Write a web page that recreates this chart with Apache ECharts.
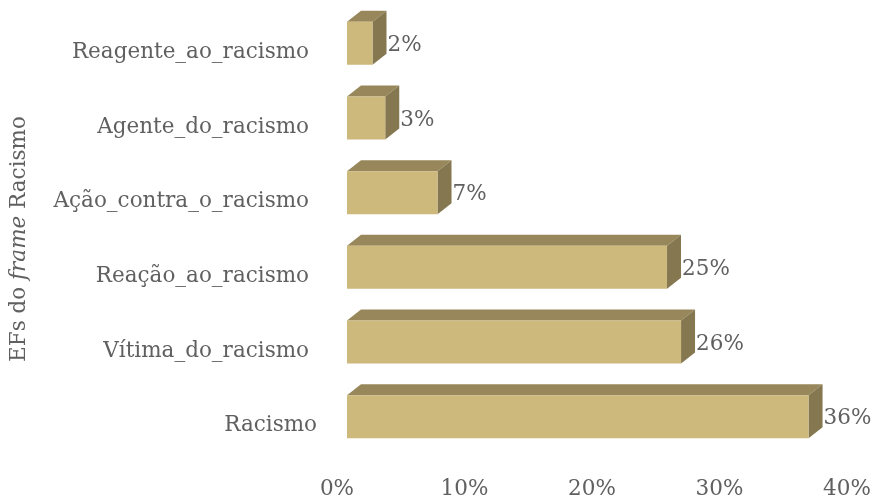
<!DOCTYPE html>
<html><head><meta charset="utf-8">
<style>html,body{margin:0;padding:0;background:#fff}#c{width:874px;height:496px}</style>
<script src="https://cdn.jsdelivr.net/npm/echarts@6/dist/echarts.min.js"></script>
</head><body><div id="c"></div>
<script>
const categories = ['Racismo','Vítima_do_racismo','Reação_ao_racismo','Ação_contra_o_racismo','Agente_do_racismo','Reagente_ao_racismo'];
const values = [36.2,26.2,25.1,7.1,3,2];
const valueLabels = ['36%','26%','25%','7%','3%','2%'];
const xTicks = [0,10,20,30,40];
const FONT = '"DejaVu Serif"';
const SIZE = 21.5;
const TEXT = '#606060';
const chart = echarts.init(document.getElementById('c'), null, {renderer:'canvas'});
chart.setOption({
  animation:false,
  backgroundColor:'#fff',
  grid:{left:337,top:15,width:510,height:448,containLabel:false,outerBoundsMode:'none'},
  xAxis:{type:'value',min:xTicks[0],max:xTicks[xTicks.length-1],interval:10,
    axisLine:{show:false},axisTick:{show:false},splitLine:{show:false},
    axisLabel:{formatter:'{value}%',color:TEXT,fontFamily:FONT,fontSize:SIZE,margin:15,hideOverlap:false}},
  yAxis:{type:'category',data:categories,
    axisLine:{show:false},axisTick:{show:false},splitLine:{show:false},
    axisLabel:{color:TEXT,fontFamily:FONT,fontSize:SIZE,margin:20,
      formatter:(v)=> v==='Racismo' ? '{b|'+v+'}' : '{a|'+v+'}',
      rich:{a:{color:TEXT,fontFamily:FONT,fontSize:SIZE,padding:[0,8,0,0]},
            b:{color:TEXT,fontFamily:FONT,fontSize:SIZE}}},
    nameLocation:'middle',nameGap:307,
    name:'{t|EFs do }{i|frame}{t| Racismo}',
    nameTextStyle:{rich:{
      t:{color:TEXT,fontFamily:FONT,fontSize:SIZE},
      i:{color:TEXT,fontFamily:FONT,fontSize:SIZE,fontStyle:'italic'}}}},
  series:[{
    type:'custom',
    data:values.map((v,i)=>[v,i,valueLabels[i]]),
    encode:{x:0,y:1},
    renderItem(params,api){
      const base=api.coord([0,api.value(1)]);
      const end=api.coord([api.value(0),api.value(1)]);
      const off=10,dx=14,dy=-11,h=43,cy=base[1]-9;
      const x0=base[0]+off,x1=end[0]+off,t=cy-h/2,b=cy+h/2;
      return {type:'group',children:[
        {type:'polygon',shape:{points:[[x0,t],[x0+dx,t+dy],[x1+dx,t+dy],[x1,t]]},style:{fill:'#97875A'}},
        {type:'polygon',shape:{points:[[x1,t],[x1+dx,t+dy],[x1+dx,b+dy],[x1,b]]},style:{fill:'#857850'}},
        {type:'rect',shape:{x:x0,y:t,width:x1-x0,height:h},style:{fill:'#CDB97B'}},
        {type:'text',style:{x:x1+dx+1,y:cy+2,text:api.value(2),fill:TEXT,
          font:SIZE+'px '+FONT,textAlign:'left',textVerticalAlign:'middle'}}
      ]};
    }
  }]
});
</script></body></html>
